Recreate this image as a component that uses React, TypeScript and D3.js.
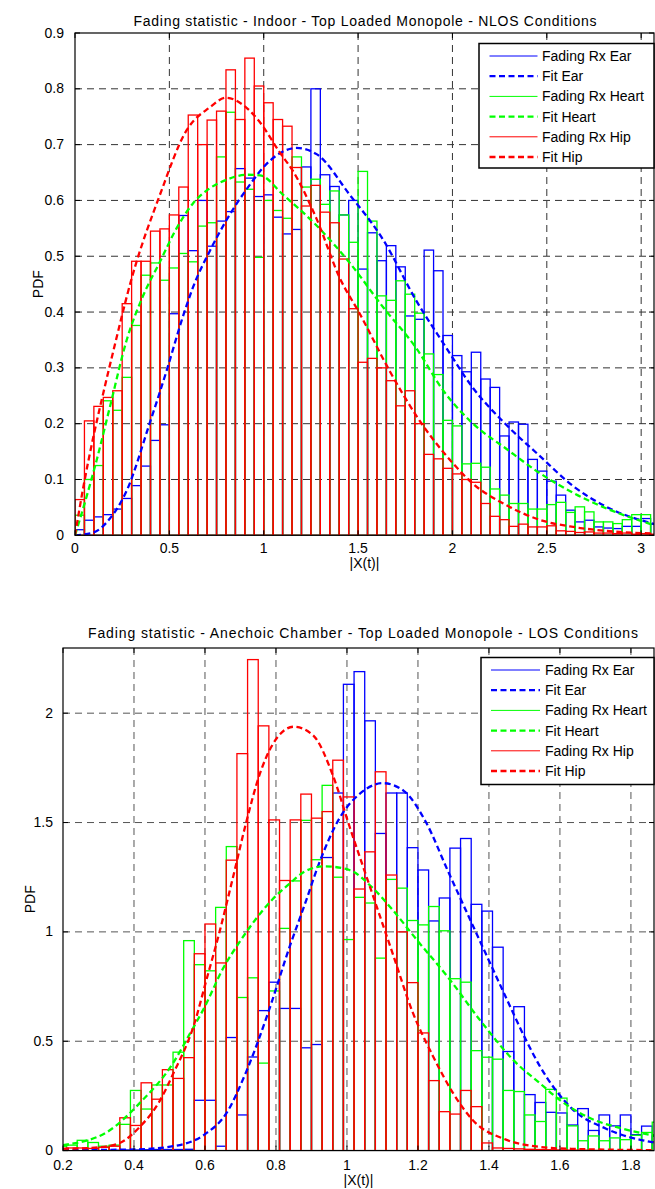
import React from "react";
import * as d3 from "d3";

const FONT = '"Liberation Sans", Arial, Helvetica, sans-serif';
const BLUE = "#0000ff";
const GREEN = "#00ff00";
const RED = "#ff0000";

// ---------- Top chart (Indoor, NLOS) ----------
const topTitle = "Fading statistic - Indoor - Top Loaded Monopole - NLOS Conditions";
const topBinStart = 0;
const topBinWidth = 0.05;
const topXTicks = [0, 0.5, 1, 1.5, 2, 2.5, 3];
const topYTicks = [0, 0.1, 0.2, 0.3, 0.4, 0.5, 0.6, 0.7, 0.8, 0.9];

const topEar = [
  0.010, 0.027, 0.033, 0.037, 0.047, 0.066, 0.089, 0.124, 0.170, 0.198,
  0.397, 0.573, 0.510, 0.600, 0.518, 0.563, 0.580, 0.657, 0.640, 0.607,
  0.610, 0.570, 0.540, 0.548, 0.660, 0.800, 0.646, 0.625, 0.574, 0.600,
  0.477, 0.542, 0.492, 0.519, 0.481, 0.393, 0.387, 0.511, 0.474, 0.358,
  0.322, 0.293, 0.328, 0.280, 0.265, 0.178, 0.203, 0.199, 0.136, 0.115,
  0.097, 0.072, 0.045, 0.024, 0.027, 0.015, 0.013, 0.012, 0.016, 0.016,
  0.030, 0.020,
];
const topHeart = [
  0.036, 0.100, 0.125, 0.241, 0.224, 0.283, 0.376, 0.466, 0.488, 0.457,
  0.479, 0.505, 0.490, 0.554, 0.560, 0.678, 0.758, 0.633, 0.620, 0.498,
  0.600, 0.582, 0.568, 0.678, 0.624, 0.638, 0.593, 0.617, 0.574, 0.525,
  0.652, 0.563, 0.429, 0.421, 0.456, 0.432, 0.398, 0.325, 0.288, 0.206,
  0.196, 0.128, 0.129, 0.122, 0.083, 0.072, 0.057, 0.057, 0.047, 0.047,
  0.055, 0.059, 0.041, 0.051, 0.042, 0.024, 0.024, 0.021, 0.028, 0.037,
  0.037, 0.020,
];
const topHip = [
  0.064, 0.205, 0.231, 0.247, 0.259, 0.415, 0.491, 0.491, 0.545, 0.549,
  0.574, 0.624, 0.753, 0.700, 0.744, 0.760, 0.834, 0.745, 0.855, 0.805,
  0.775, 0.745, 0.733, 0.659, 0.590, 0.627, 0.579, 0.560, 0.495, 0.406,
  0.310, 0.317, 0.300, 0.277, 0.232, 0.259, 0.200, 0.145, 0.137, 0.120,
  0.110, 0.100, 0.095, 0.057, 0.034, 0.028, 0.016, 0.020, 0.015, 0.015,
  0.017, 0.008, 0.007, 0.005, 0.006, 0.004, 0.004, 0.003, 0.004, 0.002,
  0.003, 0.002,
];

const topFitEar: [number, number][] = [
  [0, 0], [0.097, 0.005], [0.185, 0.03], [0.274, 0.08], [0.395, 0.2], [0.49, 0.3],
  [0.57, 0.39], [0.626, 0.445], [0.715, 0.51], [0.803, 0.565], [0.909, 0.62], [1.032, 0.671],
  [1.174, 0.694], [1.28, 0.683], [1.456, 0.61], [1.632, 0.53], [1.809, 0.42], [1.95, 0.345],
  [2.109, 0.264], [2.285, 0.198], [2.46, 0.143], [2.64, 0.088], [2.81, 0.052], [3.07, 0.02],
];
const topFitHeart: [number, number][] = [
  [0, 0], [0.062, 0.07], [0.115, 0.135], [0.185, 0.23], [0.274, 0.35], [0.362, 0.43],
  [0.45, 0.49], [0.538, 0.55], [0.626, 0.595], [0.715, 0.622], [0.803, 0.637], [0.909, 0.646],
  [0.98, 0.645], [1.103, 0.61], [1.28, 0.555], [1.456, 0.488], [1.632, 0.409], [1.809, 0.335],
  [1.95, 0.26], [2.109, 0.2], [2.285, 0.155], [2.46, 0.112], [2.64, 0.076], [2.81, 0.049],
  [3.07, 0.018],
];
const topFitHip: [number, number][] = [
  [0, 0], [0.044, 0.086], [0.097, 0.176], [0.15, 0.255], [0.203, 0.33], [0.3, 0.46],
  [0.45, 0.61], [0.59, 0.725], [0.715, 0.767], [0.8, 0.784], [0.909, 0.766], [0.98, 0.74],
  [1.085, 0.686], [1.156, 0.652], [1.28, 0.567], [1.403, 0.461], [1.509, 0.397], [1.668, 0.294],
  [1.809, 0.214], [2.0, 0.13], [2.1, 0.095], [2.28, 0.055], [2.46, 0.028], [2.64, 0.015],
  [2.81, 0.008], [3.07, 0.003],
];

// ---------- Bottom chart (Anechoic, LOS) ----------
const botTitle = "Fading statistic - Anechoic Chamber - Top Loaded Monopole - LOS Conditions";
const botBinStart = 0.18;
const botBinWidth = 0.03;
const botXTicks = [0.2, 0.4, 0.6, 0.8, 1, 1.2, 1.4, 1.6, 1.8];
const botYTicks = [0, 0.5, 1, 1.5, 2];

const botEar = [
  0, 0, 0, 0, 0, 0.002, 0.003, 0.003, 0.004, 0.005,
  0.005, 0.005, 0.006, 0.230, 0.230, 0.020, 0.517, 0.163, 0.428, 0.640,
  0.770, 0.650, 0.650, 0.470, 0.485, 1.340, 1.635, 2.132, 2.190, 1.965,
  1.450, 1.635, 1.635, 1.385, 1.283, 1.050, 1.155, 1.383, 1.427, 1.126,
  1.095, 0.930, 0.453, 0.658, 0.256, 0.220, 0.175, 0.172, 0.117, 0.192,
  0.092, 0.163, 0.113, 0.163, 0.073, 0.112, 0.067,
];
const botHeart = [
  0.020, 0.025, 0.047, 0.037, 0.020, 0.025, 0.120, 0.275, 0.190, 0.300,
  0.300, 0.450, 0.960, 0.850, 0.822, 1.112, 1.390, 0.700, 0.790, 0.400,
  0.730, 1.016, 1.233, 1.510, 1.330, 1.670, 1.250, 0.965, 1.158, 1.132,
  0.880, 1.240, 1.200, 1.052, 1.032, 1.116, 1.005, 0.786, 0.770, 0.457,
  0.427, 0.418, 0.275, 0.270, 0.163, 0.133, 0.280, 0.240, 0.113, 0.045,
  0.067, 0.045, 0.058, 0.050, 0.070, 0.083, 0.130,
];
const botHip = [
  0.010, 0.012, 0.012, 0.010, 0.015, 0.020, 0.150, 0.115, 0.310, 0.235,
  0.370, 0.330, 0.425, 0.900, 1.036, 0.858, 1.328, 1.815, 2.245, 1.942,
  1.512, 1.235, 1.512, 1.630, 1.520, 1.550, 1.785, 1.617, 1.196, 1.366,
  1.732, 1.260, 1.000, 0.768, 0.538, 0.320, 0.178, 0.167, 0.275, 0.201,
  0.035, 0.012, 0.010, 0.008, 0.006, 0.005, 0.004, 0.003, 0.002, 0.002,
  0.001, 0, 0, 0, 0, 0, 0,
];

const botFitEar: [number, number][] = [
  [0.2, 0.002], [0.4, 0.005], [0.51, 0.02], [0.6, 0.075], [0.66, 0.17], [0.716, 0.36],
  [0.782, 0.65], [0.838, 0.93], [0.88, 1.12], [0.923, 1.32], [0.979, 1.52], [1.035, 1.63],
  [1.101, 1.68], [1.16, 1.645], [1.223, 1.5], [1.284, 1.28], [1.36, 1.01], [1.448, 0.7],
  [1.5, 0.52], [1.542, 0.39], [1.635, 0.19], [1.73, 0.1], [1.871, 0.035],
];
const botFitHeart: [number, number][] = [
  [0.2, 0.025], [0.322, 0.083], [0.416, 0.217], [0.51, 0.4], [0.556, 0.53], [0.6, 0.66],
  [0.65, 0.83], [0.7, 0.96], [0.744, 1.06], [0.791, 1.15], [0.838, 1.22], [0.88, 1.275],
  [0.936, 1.3], [1.007, 1.283], [1.073, 1.2], [1.129, 1.1], [1.195, 0.967], [1.284, 0.794],
  [1.378, 0.59], [1.471, 0.41], [1.542, 0.31], [1.598, 0.233], [1.683, 0.15], [1.777, 0.1],
  [1.871, 0.067],
];
const botFitHip: [number, number][] = [
  [0.2, 0.008], [0.3, 0.015], [0.36, 0.035], [0.416, 0.108], [0.47, 0.22], [0.51, 0.35],
  [0.57, 0.58], [0.604, 0.78], [0.641, 1.0], [0.679, 1.25], [0.716, 1.5], [0.754, 1.72],
  [0.791, 1.858], [0.85, 1.938], [0.904, 1.9], [0.96, 1.717], [1.007, 1.483], [1.073, 1.167],
  [1.129, 0.9], [1.185, 0.633], [1.242, 0.433], [1.3, 0.26], [1.354, 0.14], [1.448, 0.05],
  [1.542, 0.017], [1.635, 0.008], [1.87, 0.002],
];

const legendLabels = ["Fading Rx Ear", "Fit Ear", "Fading Rx Heart", "Fit Heart", "Fading Rx Hip", "Fit Hip"];

type Pt = [number, number];
type ChartProps = {
  id: string;
  title: string;
  titleX: number;
  titleY: number;
  titleLen: number;
  left: number;
  right: number;
  top: number;
  bottom: number;
  xDomain: [number, number];
  yDomain: [number, number];
  xTicks: number[];
  yTicks: number[];
  yLabelRight: number;
  xLabelBase: number;
  xTitleBase: number;
  pdfX: number;
  binStart: number;
  binWidth: number;
  ear: number[];
  heart: number[];
  hip: number[];
  fitEar: Pt[];
  fitHeart: Pt[];
  fitHip: Pt[];
  legendX: number;
  legendY: number;
  legendW: number;
  legendH: number;
  legendLine0: number;
  legendLine1: number;
  legendText: number;
  legendRow0: number;
  legendStep: number;
  gridColor: string;
};

function fmt(v: number) {
  return String(+v.toFixed(2));
}

function Chart(p: ChartProps) {
  const x = d3.scaleLinear().domain(p.xDomain).range([p.left, p.right]);
  const y = d3.scaleLinear().domain(p.yDomain).range([p.bottom, p.top]);
  const line = d3
    .line<Pt>()
    .x((d) => x(d[0]))
    .y((d) => y(d[1]))
    .curve(d3.curveMonotoneX);

  const bars = (vals: number[], color: string, key: string) =>
    vals.map((v, i) => {
      if (v <= 0) return null;
      const x0 = x(p.binStart + i * p.binWidth);
      const x1 = x(p.binStart + (i + 1) * p.binWidth);
      const y0 = y(v);
      return (
        <rect
          key={key + i}
          x={x0}
          y={y0}
          width={x1 - x0}
          height={y(0) - y0}
          fill="none"
          stroke={color}
          strokeWidth={1.3}
        />
      );
    });

  const series = [
    { color: BLUE, dashed: false },
    { color: BLUE, dashed: true },
    { color: GREEN, dashed: false },
    { color: GREEN, dashed: true },
    { color: RED, dashed: false },
    { color: RED, dashed: true },
  ];

  const eps = 0.5;
  const gx = p.xTicks.filter((t) => x(t) > p.left + eps && x(t) < p.right - eps);
  const gy = p.yTicks.filter((t) => y(t) < p.bottom - eps && y(t) > p.top + eps);

  return (
    <g>
      <text
        x={p.titleX}
        y={p.titleY}
        textAnchor="middle"
        fontSize={14}
        fontFamily={FONT}
        textLength={p.titleLen}
        lengthAdjust="spacing"
      >
        {p.title}
      </text>
      <defs>
        <clipPath id={p.id}>
          <rect x={p.left} y={p.top} width={p.right - p.left} height={p.bottom - p.top} />
        </clipPath>
      </defs>
      <rect x={p.left} y={p.top} width={p.right - p.left} height={p.bottom - p.top} fill="#fff" />
      {gx.map((t) => (
        <line key={"gx" + t} x1={x(t)} x2={x(t)} y1={p.top} y2={p.bottom} stroke={p.gridColor} strokeWidth={1} strokeDasharray="7,5" />
      ))}
      {gy.map((t) => (
        <line key={"gy" + t} x1={p.left} x2={p.right} y1={y(t)} y2={y(t)} stroke={p.gridColor} strokeWidth={1} strokeDasharray="7,5" />
      ))}
      <g clipPath={`url(#${p.id})`}>
        {bars(p.ear, BLUE, "e")}
        {bars(p.heart, GREEN, "h")}
        {bars(p.hip, RED, "p")}
        <path d={line(p.fitEar) || ""} fill="none" stroke={BLUE} strokeWidth={2.3} strokeDasharray="6,3.5" />
        <path d={line(p.fitHeart) || ""} fill="none" stroke={GREEN} strokeWidth={2.3} strokeDasharray="6,3.5" />
        <path d={line(p.fitHip) || ""} fill="none" stroke={RED} strokeWidth={2.3} strokeDasharray="6,3.5" />
      </g>
      {p.xTicks.map((t) => (
        <g key={"tx" + t}>
          <line x1={x(t)} x2={x(t)} y1={p.bottom} y2={p.bottom - 5} stroke="#000" />
          <line x1={x(t)} x2={x(t)} y1={p.top} y2={p.top + 5} stroke="#000" />
          <text x={x(t)} y={p.xLabelBase} textAnchor="middle" fontSize={14} fontFamily={FONT}>
            {fmt(t)}
          </text>
        </g>
      ))}
      {p.yTicks.map((t) => (
        <g key={"ty" + t}>
          <line x1={p.left} x2={p.left + 5} y1={y(t)} y2={y(t)} stroke="#000" />
          <line x1={p.right} x2={p.right - 5} y1={y(t)} y2={y(t)} stroke="#000" />
          <text x={p.yLabelRight} y={y(t) + 4.5} textAnchor="end" fontSize={14} fontFamily={FONT}>
            {fmt(t)}
          </text>
        </g>
      ))}
      <rect x={p.left} y={p.top} width={p.right - p.left} height={p.bottom - p.top} fill="none" stroke="#000" strokeWidth={1.2} />
      <text x={(p.left + p.right) / 2} y={p.xTitleBase} textAnchor="middle" fontSize={14} fontFamily={FONT}>
        |X(t)|
      </text>
      <text
        transform={`translate(${p.pdfX},${(p.top + p.bottom) / 2}) rotate(-90)`}
        textAnchor="middle"
        fontSize={14}
        fontFamily={FONT}
      >
        PDF
      </text>
      <rect x={p.legendX} y={p.legendY} width={p.legendW} height={p.legendH} fill="#fff" stroke="#000" strokeWidth={1.5} />
      {legendLabels.map((lab, i) => {
        const s = series[i];
        const yy = p.legendRow0 + i * p.legendStep;
        return (
          <g key={"lg" + i}>
            <line
              x1={p.legendLine0}
              x2={p.legendLine1}
              y1={yy}
              y2={yy}
              stroke={s.color}
              strokeWidth={s.dashed ? 2.3 : 1}
              strokeDasharray={s.dashed ? "6,3.5" : undefined}
            />
            <text x={p.legendText} y={yy + 5} fontSize={14} fontFamily={FONT}>
              {lab}
            </text>
          </g>
        );
      })}
    </g>
  );
}

export default function App() {
  return (
    <svg
      width={655}
      height={1189}
      viewBox="0 0 655 1189"
      style={{ position: "absolute", left: 0, top: 0, display: "block", background: "#fff" }}
    >
      <rect x={0} y={0} width={655} height={1189} fill="#fff" />
      <Chart
        id="clipTop"
        title={topTitle}
        titleX={365}
        titleY={26}
        titleLen={463}
        left={75}
        right={654}
        top={33}
        bottom={535.3}
        xDomain={[0, 3.068]}
        yDomain={[0, 0.9]}
        xTicks={topXTicks}
        yTicks={topYTicks}
        yLabelRight={64}
        xLabelBase={553}
        xTitleBase={568}
        pdfX={43}
        binStart={topBinStart}
        binWidth={topBinWidth}
        ear={topEar}
        heart={topHeart}
        hip={topHip}
        fitEar={topFitEar}
        fitHeart={topFitHeart}
        fitHip={topFitHip}
        legendX={479}
        legendY={43.5}
        legendW={175}
        legendH={124.5}
        legendLine0={489.5}
        legendLine1={537.5}
        legendText={542}
        legendRow0={56}
        legendStep={20.2}
        gridColor="#333"
      />
      <Chart
        id="clipBot"
        title={botTitle}
        titleX={363}
        titleY={638}
        titleLen={550}
        left={63}
        right={654}
        top={648}
        bottom={1150.6}
        xDomain={[0.2, 1.865]}
        yDomain={[0, 2.298]}
        xTicks={botXTicks}
        yTicks={botYTicks}
        yLabelRight={53}
        xLabelBase={1170}
        xTitleBase={1185}
        pdfX={35}
        binStart={botBinStart}
        binWidth={botBinWidth}
        ear={botEar}
        heart={botHeart}
        hip={botHip}
        fitEar={botFitEar}
        fitHeart={botFitHeart}
        fitHip={botFitHip}
        legendX={481}
        legendY={657.5}
        legendW={173}
        legendH={127}
        legendLine0={491}
        legendLine1={540}
        legendText={545}
        legendRow0={670}
        legendStep={20.2}
        gridColor="#555"
      />
    </svg>
  );
}
